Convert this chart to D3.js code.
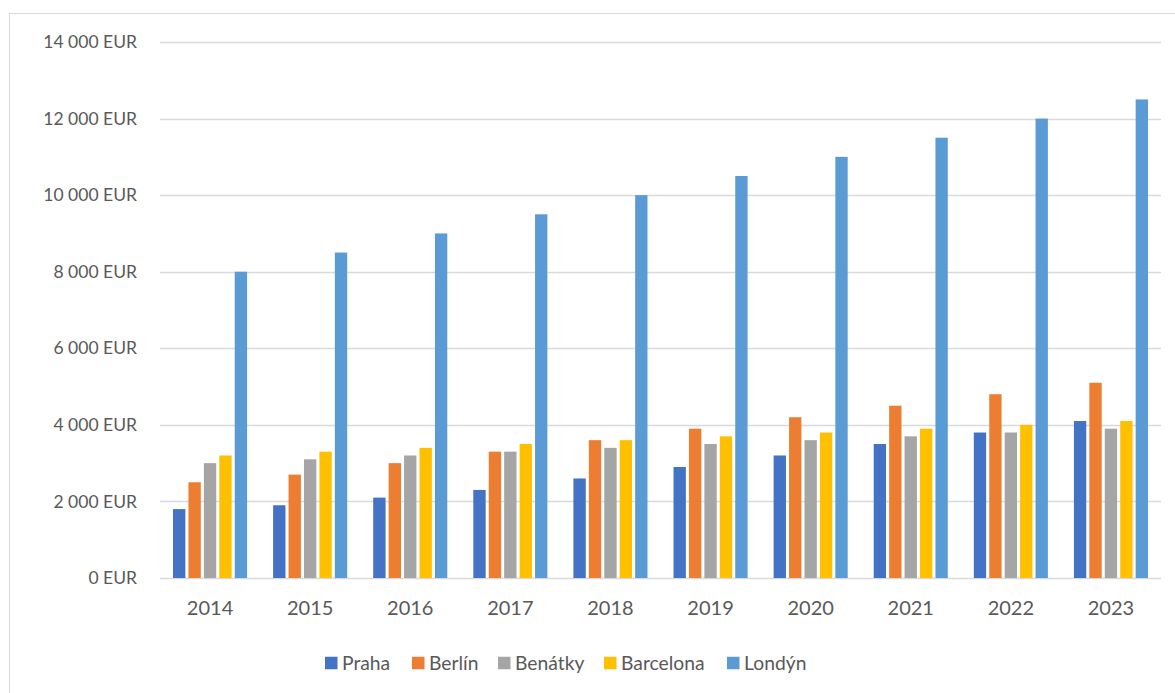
<!DOCTYPE html>
<html>
<head>
<meta charset="utf-8">
<script src="https://cdn.jsdelivr.net/npm/d3@7"></script>
<style>
  body { margin: 0; background: #fff; }
  svg { display: block; font-family: Lato, "Open Sans", sans-serif; }
</style>
</head>
<body>
<svg id="chart" width="1175" height="693"></svg>
<script>
// data
const years = ['2014', '2015', '2016', '2017', '2018', '2019', '2020', '2021', '2022', '2023'];
const cities = ['Praha', 'Berlín', 'Benátky', 'Barcelona', 'Londýn'];
const praha = [1800, 1900, 2100, 2300, 2600, 2900, 3200, 3500, 3800, 4100];
const berlin = [2500, 2700, 3000, 3300, 3600, 3900, 4200, 4500, 4800, 5100];
const benatky = [3000, 3100, 3200, 3300, 3400, 3500, 3600, 3700, 3800, 3900];
const barcelona = [3200, 3300, 3400, 3500, 3600, 3700, 3800, 3900, 4000, 4100];
const londyn = [8000, 8500, 9000, 9500, 10000, 10500, 11000, 11500, 12000, 12500];
const yTicks = [0, 2000, 4000, 6000, 8000, 10000, 12000, 14000];
const colors = ['#4472C4', '#ED7D31', '#A5A5A5', '#FFC000', '#5B9BD5'];

const series = [praha, berlin, benatky, barcelona, londyn];

const svg = d3.select('#chart');
const margin = { top: 42, left: 160, right: 14, bottom: 115 };
const width = 1175, height = 693;
const innerWidth = width - margin.left - margin.right;
const innerHeight = height - margin.top - margin.bottom;

// outer chart border (right and bottom edges fall outside the picture)
svg.append('rect')
  .attr('x', 9.5).attr('y', 13.5)
  .attr('width', 1175).attr('height', 700)
  .attr('fill', 'none')
  .attr('stroke', '#D9D9D9');

const g = svg.append('g').attr('transform', `translate(${margin.left},${margin.top})`);

const x0 = d3.scaleBand().domain(years).range([0, innerWidth]).paddingInner(0.26).paddingOuter(0.13);
const x1 = d3.scaleBand().domain(cities).range([0, x0.bandwidth()]).paddingInner(0.2).paddingOuter(0);
const y = d3.scaleLinear().domain([0, 14000]).range([innerHeight, 0]);

// gridlines
g.selectAll('.grid').data(yTicks).join('line')
  .attr('class', 'grid')
  .attr('x1', 0).attr('x2', innerWidth)
  .attr('y1', d => Math.round(y(d)) + 0.5).attr('y2', d => Math.round(y(d)) + 0.5)
  .attr('stroke', '#D9D9D9').attr('stroke-width', 1.3);

// y axis labels
const fmt = d => d3.format(',')(d).replace(/,/g, '\u00a0') + ' EUR';
const yAxis = d3.axisLeft(y).tickValues(yTicks).tickSize(0).tickPadding(23).tickFormat(fmt);
g.append('g').call(yAxis).call(a => a.select('.domain').remove())
  .attr('font-size', null).attr('font-family', null)
  .selectAll('text').attr('fill', '#595959').style('font-size', '17.5px');

// x axis labels
const xAxis = d3.axisBottom(x0).tickSize(0).tickPadding(23);
g.append('g').attr('transform', `translate(0,${innerHeight})`).call(xAxis)
  .call(a => a.select('.domain').remove())
  .attr('font-size', null).attr('font-family', null)
  .selectAll('text').attr('fill', '#595959').style('font-size', '20px');

// bars
const groups = g.selectAll('.year').data(years).join('g')
  .attr('class', 'year')
  .attr('transform', d => `translate(${x0(d)},0)`);

groups.selectAll('rect')
  .data((yr, i) => cities.map((c, k) => ({ city: c, value: series[k][i], k })))
  .join('rect')
  .attr('x', d => x1(d.city))
  .attr('width', x1.bandwidth())
  .attr('y', d => y(d.value))
  .attr('height', d => y(0) - y(d.value))
  .attr('fill', d => colors[d.k]);

// legend
const legendX = [325, 412, 498, 604, 727];
const legend = svg.append('g').attr('transform', 'translate(0,663)');
const items = legend.selectAll('g').data(cities).join('g')
  .attr('transform', (d, i) => `translate(${legendX[i]},0)`);
items.append('rect')
  .attr('x', 0).attr('y', -6.25).attr('width', 12.5).attr('height', 12.5)
  .attr('fill', (d, i) => colors[i]);
items.append('text')
  .attr('x', 17).attr('y', 0).attr('dy', '0.35em')
  .attr('fill', '#595959').style('font-size', '19.3px')
  .text(d => d);
</script>
</body>
</html>
